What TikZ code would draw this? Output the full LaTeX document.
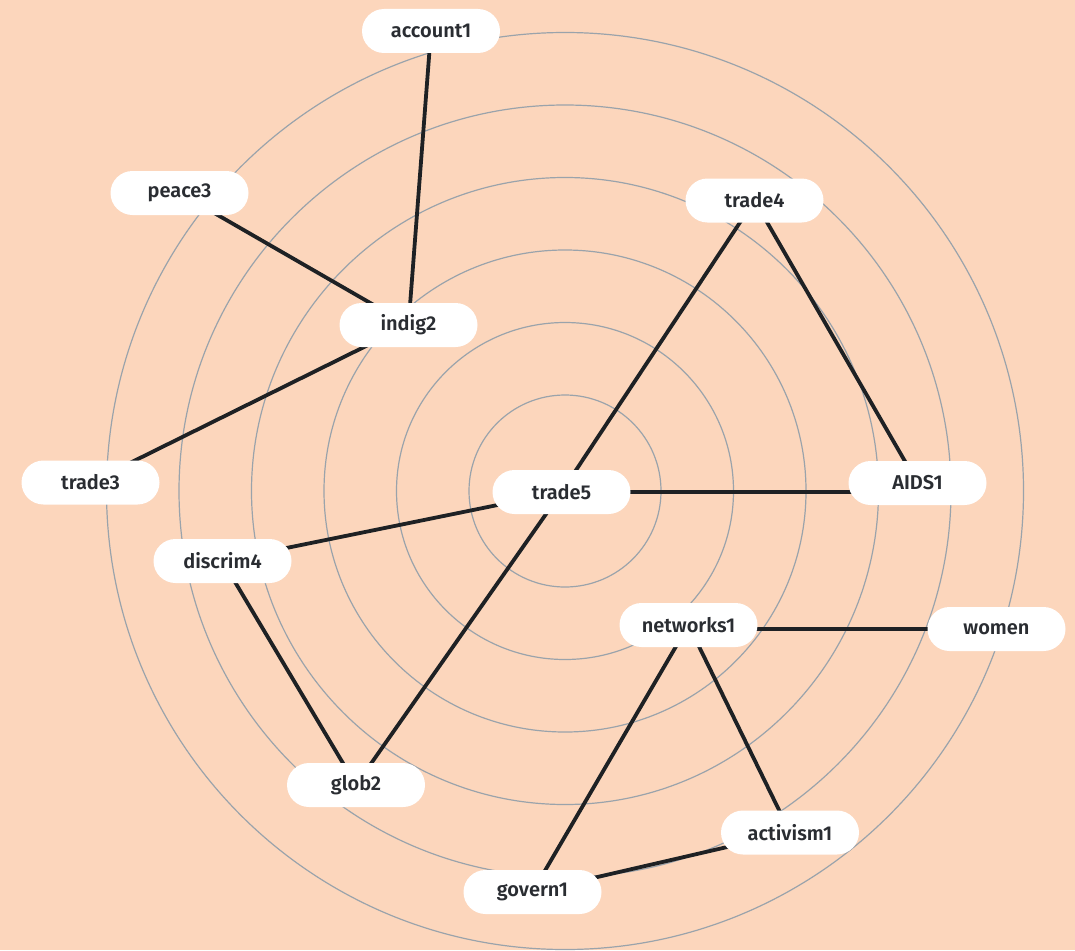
\documentclass[tikz,border=0pt]{standalone}
\usepackage{fontspec}
\setmainfont{Fira Sans}
\newfontfamily\labelfont{Fira Sans SemiBold}
\usetikzlibrary{backgrounds}
\definecolor{bgpeach}{HTML}{FCD6BC}
\definecolor{ringgray}{HTML}{9AA3AB}
\definecolor{edgedark}{HTML}{1E2124}
\definecolor{textdark}{HTML}{2A2D32}
\tikzset{
  pill/.style={fill=white, rounded corners=22pt, minimum width=138pt, minimum height=44pt,
    inner sep=0pt, text=textdark, font=\labelfont\fontsize{20}{20}\selectfont},
  ring/.style={draw=ringgray, line width=1.2pt},
  link/.style={draw=edgedark, line width=3.8pt},
}
\begin{document}
\begin{tikzpicture}[x=1pt,y=-1pt]
\useasboundingbox (0,0) rectangle (1075,950);
\node[pill] (account1) at (431,31) {account1};
\node[pill] (peace3) at (179.5,193) {peace3};
\node[pill] (trade4) at (754.5,200.5) {trade4};
\node[pill] (indig2) at (408.5,325) {indig2};
\node[pill] (trade3) at (90.5,482.5) {trade3};
\node[pill] (trade5) at (561.5,492) {trade5};
\node[pill] (AIDS1) at (917.5,483) {AIDS1};
\node[pill] (discrim4) at (222.5,561) {discrim4};
\node[pill] (networks1) at (688.5,625) {networks1};
\node[pill] (women) at (996.5,629) {women};
\node[pill] (glob2) at (356,785) {glob2};
\node[pill] (activism1) at (790,832.5) {activism1};
\node[pill] (govern1) at (532.5,892) {govern1};
\begin{scope}[on background layer]
  \fill[bgpeach] (0,0) rectangle (1075,950);
  \clip (0,0) rectangle (1075,950);
  \foreach \r in {96,168.5,241,313.5,386,458.5}
    \draw[ring] (565,491) circle[radius=\r];
  \draw[link] (account1.center) -- (indig2.center);
  \draw[link] (peace3.center) -- (indig2.center);
  \draw[link] (indig2.center) -- (trade3.center);
  \draw[link] (trade4.center) -- (trade5.center);
  \draw[link] (trade4.center) -- (AIDS1.center);
  \draw[link] (trade5.center) -- (trade5.center -| AIDS1.center);
  \draw[link] (trade5.center) -- (discrim4.center);
  \draw[link] (trade5.center) -- (glob2.center);
  \draw[link] (discrim4.center) -- (glob2.center);
  \draw[link] (networks1.center |- women.center) -- (women.center);
  \draw[link] (networks1.center) -- (govern1.center);
  \draw[link] (networks1.center) -- (activism1.center);
  \draw[link] (activism1.center) -- (govern1.center);
\end{scope}
\end{tikzpicture}
\end{document}
